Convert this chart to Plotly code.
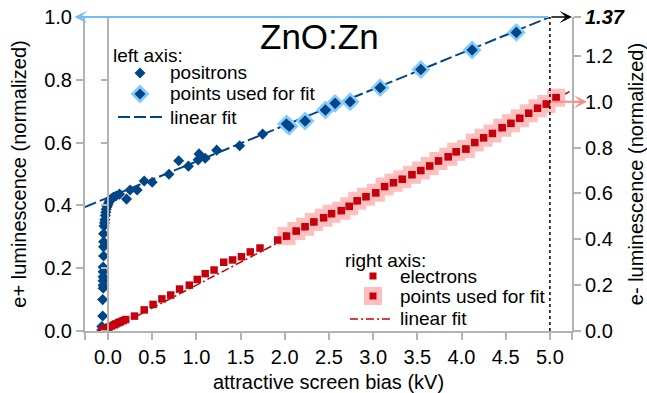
import numpy as np
import plotly.graph_objects as go

# ---------------- data ----------------
# positrons, left axis (normalized e+ luminescence) vs attractive screen bias (kV)
pos_x = [-0.07, -0.07, -0.06, -0.06, -0.055, -0.055, -0.055, -0.055, -0.055, -0.055,
         -0.05, -0.05, -0.05, -0.05, -0.045, -0.04, -0.035, -0.03, -0.025, -0.02,
         -0.01, 0.0, 0.01, 0.02, 0.04, 0.06, 0.09, 0.13,
         0.21, 0.25, 0.33, 0.41, 0.50, 0.69, 0.80, 0.91, 1.02, 1.03, 1.10, 1.23,
         1.49, 1.75, 2.02, 2.05, 2.23, 2.46, 2.57, 2.74, 3.08, 3.54, 4.12, 4.62]
pos_y = [0.003, 0.014, 0.048, 0.100, 0.136, 0.146, 0.160, 0.173, 0.189, 0.204,
         0.239, 0.268, 0.284, 0.310, 0.334, 0.345, 0.354, 0.368, 0.378, 0.388,
         0.396, 0.403, 0.410, 0.416, 0.421, 0.426, 0.430, 0.436,
         0.420, 0.449, 0.449, 0.478, 0.474, 0.499, 0.542, 0.525, 0.545, 0.564, 0.550, 0.576,
         0.590, 0.627, 0.659, 0.652, 0.669, 0.704, 0.725, 0.730, 0.775, 0.833, 0.895, 0.951]

# electrons, right axis (normalized e- luminescence)
el_x = [-0.07, -0.05, -0.03, -0.01, 0.01, 0.04, 0.07, 0.09, 0.12, 0.14, 0.17, 0.20,
        0.30, 0.41, 0.51, 0.61, 0.71, 0.81, 0.92, 1.01, 1.10, 1.20, 1.31, 1.41,
        1.51, 1.61, 1.72, 1.92, 2.02, 2.13, 2.23, 2.33, 2.44, 2.53, 2.64, 2.73,
        2.82, 2.92, 3.03, 3.13, 3.23, 3.33, 3.44, 3.54, 3.64, 3.74, 3.85, 3.94,
        4.05, 4.15, 4.25, 4.35, 4.46, 4.56, 4.66, 4.76, 4.86, 4.96, 5.07]
el_y = [0.002, 0.006, 0.010, 0.013, 0.017, 0.022, 0.027, 0.031, 0.036, 0.040, 0.045, 0.050,
        0.065, 0.092, 0.116, 0.140, 0.157, 0.183, 0.200, 0.225, 0.250, 0.266, 0.300, 0.310,
        0.324, 0.345, 0.362, 0.397, 0.414, 0.436, 0.455, 0.476, 0.494, 0.512, 0.525, 0.544,
        0.568, 0.586, 0.603, 0.630, 0.647, 0.662, 0.682, 0.700, 0.720, 0.742, 0.760, 0.782,
        0.794, 0.822, 0.843, 0.862, 0.887, 0.906, 0.928, 0.950, 0.972, 0.990, 1.018]

# points with bias >= this value were used for the linear fits
fit_min_bias = 2.0

# linear fit lines (end points)
pos_fit_x = [-0.26, 5.0]
pos_fit_y = [0.395, 1.0]
el_fit_x = [0.0, 5.25]
el_fit_y = [0.0, 1.05]

# axes
x_tick_vals = [0.0, 0.5, 1.0, 1.5, 2.0, 2.5, 3.0, 3.5, 4.0, 4.5, 5.0]
left_tick_vals = [0.0, 0.2, 0.4, 0.6, 0.8, 1.0]
right_tick_vals = [0.0, 0.2, 0.4, 0.6, 0.8, 1.0, 1.2]
right_axis_max = 1.37   # e- value corresponding to left-axis 1.0
fit_end_bias = 5.0

# legend texts
left_legend = ["left axis:", "positrons", "points used for fit", "linear fit"]
right_legend = ["right axis:", "electrons", "points used for fit", "linear fit"]

# ---------------- styling ----------------
FONT = "Liberation Sans"
DARK_BLUE = "#004586"
LIGHT_BLUE = "#83caff"
RED = "#c5000b"
PINK = "#ffbfbf"
AXIS_GRAY = "#b3b3b3"

W, H = 647, 393
ML, MR, MT, MB = 85, 75, 17, 62
PW, PH = W - ML - MR, H - MT - MB

XR = [-0.26, 5.25]
YL = [0.0, 1.0]
YR = [0.0, right_axis_max]


def PX(px):
    return (px - ML) / PW


def PY(py):
    return (H - MB - py) / PH


pos_x_a = np.array(pos_x); pos_y_a = np.array(pos_y)
el_x_a = np.array(el_x); el_y_a = np.array(el_y)
pm = pos_x_a >= fit_min_bias
em = el_x_a >= fit_min_bias

POS_DASH = "12px,4px"
EL_DASH = "8px,3px,2px,3px"

fig = go.Figure()

# --- positrons (left axis) ---
fig.add_trace(go.Scatter(x=pos_fit_x, y=pos_fit_y, mode="lines", showlegend=False,
                         line=dict(color=DARK_BLUE, width=2, dash=POS_DASH), yaxis="y"))
fig.add_trace(go.Scatter(x=pos_x_a[pm], y=pos_y_a[pm], mode="markers", showlegend=False,
                         marker=dict(symbol="diamond", size=11.5, color=DARK_BLUE,
                                     line=dict(color=LIGHT_BLUE, width=2.8)), yaxis="y"))
fig.add_trace(go.Scatter(x=pos_x, y=pos_y, mode="markers", showlegend=False,
                         marker=dict(symbol="diamond", size=8.5, color=DARK_BLUE, line=dict(width=0)),
                         yaxis="y"))

# --- electrons (right axis) ---
fig.add_trace(go.Scatter(x=el_fit_x, y=el_fit_y, mode="lines", showlegend=False,
                         line=dict(color=RED, width=1.5, dash=EL_DASH), yaxis="y2"))
fig.add_trace(go.Scatter(x=el_x_a[em], y=el_y_a[em], mode="markers", showlegend=False,
                         marker=dict(symbol="square", size=12.5, color=RED,
                                     line=dict(color=PINK, width=5.5)), yaxis="y2"))
fig.add_trace(go.Scatter(x=el_x, y=el_y, mode="markers", showlegend=False,
                         marker=dict(symbol="square", size=7.5, color=RED, line=dict(width=0)),
                         yaxis="y2"))

# dummy trace so that the x = 0 axis line is drawn
fig.add_trace(go.Scatter(x=[None], y=[None], yaxis="y3", showlegend=False, hoverinfo="skip"))

zero_pos = (0.0 - XR[0]) / (XR[1] - XR[0])

tick_font = dict(family=FONT, size=20, color="black")
title_font = dict(family=FONT, size=20, color="black")
axis_common = dict(showgrid=False, zeroline=False, showline=True, linecolor=AXIS_GRAY,
                   linewidth=2, ticks="outside", ticklen=7, tickwidth=2, tickcolor=AXIS_GRAY,
                   automargin=False)

fig.update_layout(
    width=W, height=H,
    margin=dict(l=ML, r=MR, t=MT, b=MB, pad=0),
    paper_bgcolor="white", plot_bgcolor="white",
    showlegend=False,
    font=dict(family=FONT, size=19, color="black"),
    xaxis=dict(range=XR, **axis_common,
               tickvals=[XR[0]] + x_tick_vals + [XR[1]],
               ticktext=[""] + [f"{v:.1f}" for v in x_tick_vals] + [""],
               tickfont=tick_font,
               title=dict(text="attractive screen bias (kV)", font=title_font, standoff=8)),
    yaxis=dict(range=YL, **axis_common,
               tickvals=left_tick_vals, ticktext=[f"{v:.1f}" for v in left_tick_vals],
               tickfont=tick_font,
               title=dict(text="e+ luminescence (normalized)", font=title_font, standoff=12)),
    yaxis2=dict(range=YR, overlaying="y", side="right", **axis_common,
                tickvals=right_tick_vals + [right_axis_max],
                ticktext=[f"{v:.1f}" for v in right_tick_vals] + [f"<b><i>{right_axis_max:.2f}</i></b>"],
                tickfont=tick_font,
                title=dict(text="e- luminescence (normalized)", font=title_font, standoff=14)),
    yaxis3=dict(range=YL, overlaying="y", anchor="free", position=zero_pos, side="left",
                showgrid=False, zeroline=False, showline=True, linecolor=AXIS_GRAY, linewidth=2,
                ticks="outside", ticklen=6, tickwidth=2, tickcolor=AXIS_GRAY,
                tickvals=left_tick_vals, showticklabels=False, automargin=False),
)

# title
fig.add_annotation(text="ZnO:Zn", xref="paper", yref="paper", x=PX(319), y=PY(36),
                   xanchor="center", yanchor="middle", showarrow=False,
                   font=dict(family=FONT, size=35, color="black"))

# dotted line at the fit end
fig.add_shape(type="line", xref="x", yref="y", x0=fit_end_bias, x1=fit_end_bias,
              y0=YL[0], y1=YL[1], line=dict(color="black", width=1.5, dash="dot"))

# arrows
fig.add_annotation(x=XR[0] - 0.12, y=YL[1], ax=fit_end_bias, ay=YL[1], xref="x", yref="y",
                   axref="x", ayref="y", text="", showarrow=True, arrowhead=3, arrowsize=1.1,
                   arrowwidth=2, arrowcolor="#72bdf4")
fig.add_annotation(x=XR[1], y=YL[1], ax=fit_end_bias, ay=YL[1], xref="x", yref="y",
                   axref="x", ayref="y", text="", showarrow=True, arrowhead=3, arrowsize=1.4,
                   arrowwidth=1.5, arrowcolor="black")
fig.add_annotation(x=XR[1] + 0.17, y=1.0, ax=fit_end_bias, ay=1.0, xref="x", yref="y2",
                   axref="x", ayref="y2", text="", showarrow=True, arrowhead=3, arrowsize=1.1,
                   arrowwidth=2, arrowcolor="#ff8a8a")


# ---------------- legends (drawn as keys + texts) ----------------
def legend_text(txt, px, py):
    fig.add_annotation(text=txt, xref="paper", yref="paper", x=PX(px), y=PY(py),
                       xanchor="left", yanchor="middle", showarrow=False,
                       font=dict(family=FONT, size=19, color="black"))


def diamond_key(cx, cy, half, color):
    fig.add_shape(type="path", xref="paper", yref="paper", xsizemode="pixel", ysizemode="pixel",
                  xanchor=PX(cx), yanchor=PY(cy),
                  path=f"M0,{half} L{half},0 L0,{-half} L{-half},0 Z",
                  fillcolor=color, line=dict(width=0), layer="above")


def square_key(cx, cy, half, color):
    fig.add_shape(type="rect", xref="paper", yref="paper", xsizemode="pixel", ysizemode="pixel",
                  xanchor=PX(cx), yanchor=PY(cy), x0=-half, x1=half, y0=-half, y1=half,
                  fillcolor=color, line=dict(width=0), layer="above")


def line_key(x0, x1, cy, color, width, dash):
    fig.add_shape(type="line", xref="paper", yref="paper", x0=PX(x0), x1=PX(x1),
                  y0=PY(cy), y1=PY(cy), line=dict(color=color, width=width, dash=dash),
                  layer="above")


# left legend
legend_text(left_legend[0], 111, 56)
diamond_key(140, 73, 5.5, DARK_BLUE)
legend_text(left_legend[1], 168, 73)
diamond_key(140, 94, 9.5, LIGHT_BLUE)
diamond_key(140, 94, 5.5, DARK_BLUE)
legend_text(left_legend[2], 168, 94)
line_key(118, 163, 117, DARK_BLUE, 2, POS_DASH)
legend_text(left_legend[3], 168, 117)

# right legend
legend_text(right_legend[0], 343, 260)
square_key(373, 276, 3.5, RED)
legend_text(right_legend[1], 398, 276)
square_key(373, 296, 9, PINK)
square_key(373, 296, 3.5, RED)
legend_text(right_legend[2], 398, 296)
line_key(350, 393, 319, RED, 1.5, EL_DASH)
legend_text(right_legend[3], 398, 318)

fig.write_html("out.html")
